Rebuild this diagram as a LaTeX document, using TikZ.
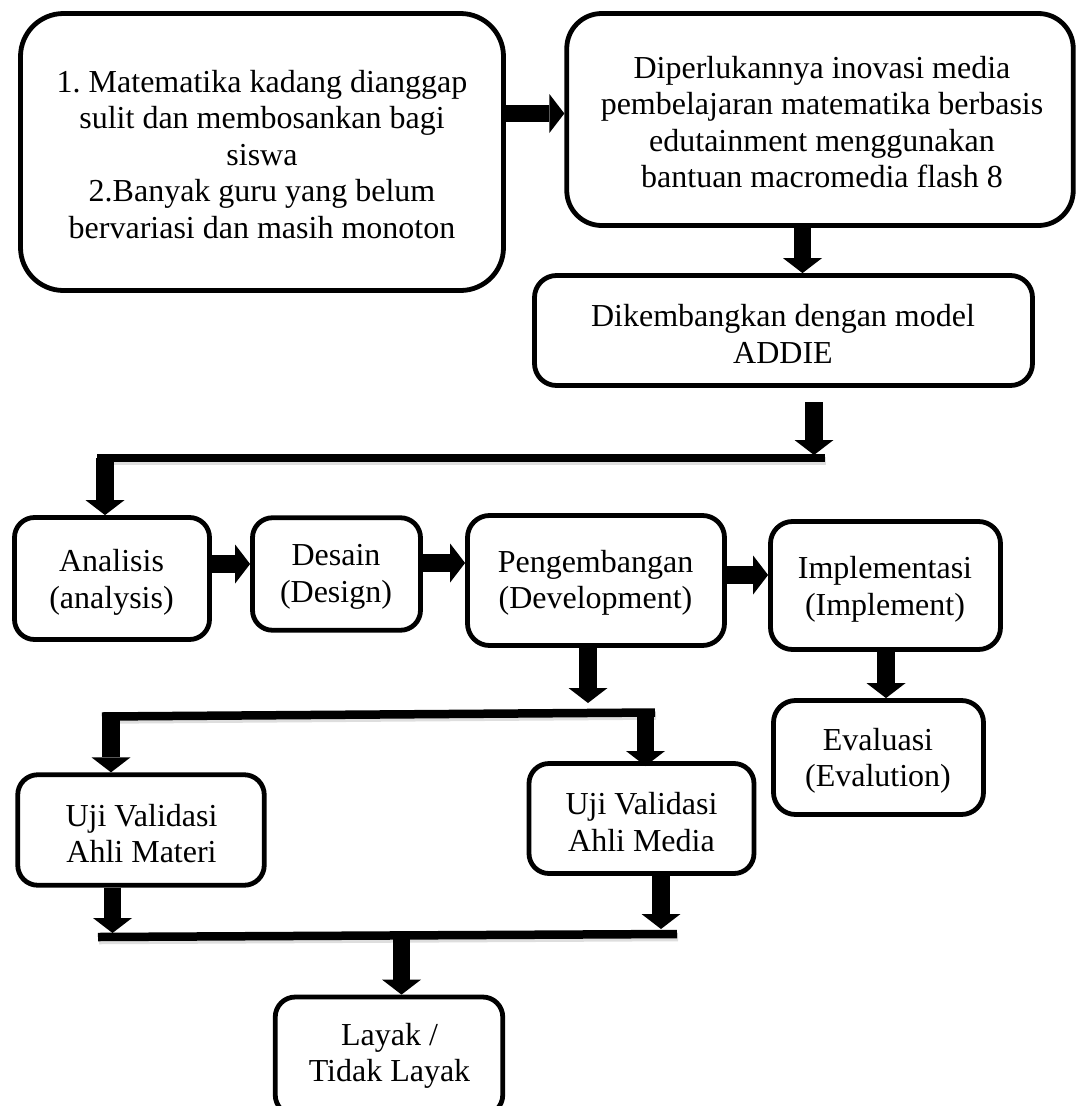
\documentclass[tikz,border=0pt]{standalone}
\usepackage{fontspec}
\setmainfont{Liberation Serif}
\usetikzlibrary{arrows.meta}
\frenchspacing
\begin{document}
\begin{tikzpicture}[x=1pt,y=-1pt,
  rbox/.style={draw, line width=4.8pt, rounded corners=#1, inner sep=0pt},
  rbox/.default=20pt,
  txt/.style={align=center, inner sep=0pt, font=\fontsize{32}{36.5}\selectfont\frenchspacing},
  barrow/.style={line width=17.5pt, -{Triangle[length=15pt,width=39pt,line width=0pt]}},
  linebar/.style={line width=8.5pt, preaction={draw=black!13, line width=8.5pt, transform canvas={xshift=1pt,yshift=-3pt}}}
]
\useasboundingbox (0,0) rectangle (1078,1106);

% boxes
\node[rbox=43pt, minimum width=483pt, minimum height=277pt] (b1) at (262,152) {};
\node[txt] (t1) at (262,154.5) {1. Matematika kadang dianggap\\ sulit dan membosankan bagi\\ siswa\\ 2.Banyak guru yang belum\\ bervariasi dan masih monoton};

\node[rbox=35pt, minimum width=506.5pt, minimum height=212pt] (b2) at (820,119.5) {};
\node[txt] (t2) at (822,122) {Diperlukannya inovasi media\\ pembelajaran matematika berbasis\\ edutainment menggunakan\\ bantuan macromedia flash 8};

\node[rbox=22pt, minimum width=498pt, minimum height=110pt] (b3) at (783.5,330.5) {};
\node[txt] (t3) at (783,334) {Dikembangkan dengan model\\ ADDIE};

\node[rbox, minimum width=195pt, minimum height=122pt] (an) at (112,578.5) {};
\node[txt] (tan) at (111.5,582.5) {Analisis\\ (analysis)};

\node[rbox, minimum width=168pt, minimum height=112.5pt] (de) at (336.5,574) {};
\node[txt] (tde) at (336,577) {Desain\\ (Design)};

\node[rbox=22pt, minimum width=257pt, minimum height=130pt] (pe) at (596,580.5) {};
\node[txt] (tpe) at (595.5,583) {Pengembangan\\ (Development)};

\node[rbox=22pt, minimum width=230pt, minimum height=128pt] (im) at (885.5,585.5) {};
\node[txt] (tim) at (885,589.5) {Implementasi\\ (Implement)};

\node[rbox=22pt, minimum width=210pt, minimum height=114pt] (ev) at (878.5,757.5) {};
\node[txt] (tev) at (878,761) {Evaluasi\\ (Evalution)};

\node[rbox, minimum width=246.5pt, minimum height=110.5pt] (um) at (141,830) {};
\node[txt] (tum) at (141.5,833.5) {Uji Validasi\\ Ahli Materi};

\node[rbox, minimum width=225pt, minimum height=110pt] (umd) at (641.5,818.5) {};
\node[txt] (tumd) at (641.5,822) {Uji Validasi\\ Ahli Media};

\node[rbox, minimum width=227.5pt, minimum height=118pt] (ly) at (389,1056) {};
\node[txt] (tly) at (389.5,1056) {Layak /\\ Tidak Layak};

% coordinates for bars and free ends
\coordinate (a3s) at (814,402);
\coordinate (a3e) at (814,455);
\coordinate (l1L) at (97,458);
\coordinate (l1R) at (825,458);
\coordinate (l1a) at (105,458);
\coordinate (a7e) at (588,703);
\coordinate (l2L) at (102,716.5);
\coordinate (l2R) at (655,712.5);
\coordinate (l2a) at (111,716);
\coordinate (l2b) at (645.5,713);
\coordinate (l2be) at (645.5,766);
\coordinate (a11e) at (112.5,933);
\coordinate (a12e) at (661,929);
\coordinate (l3L) at (98,937);
\coordinate (l3R) at (677,934);
\coordinate (l3a) at (401.5,935.5);

% bars
\draw[linebar] (l1L) -- (l1R);
\draw[linebar] (l2L) -- (l2R);
\draw[linebar] (l3L) -- (l3R);

% arrows
\draw[barrow] (b1.east |- 0,113.5) -- (b2.west |- 0,113.5);
\draw[barrow] (b2.south -| 802.5,0) -- (b3.north -| 802.5,0);
\draw[barrow] (a3s) -- (a3e);
\draw[barrow] (l1a) -- (an.north -| l1a);
\draw[barrow] (an.east |- 0,564) -- (de.west |- 0,564);
\draw[barrow] (de.east |- 0,563) -- (pe.west |- 0,563);
\draw[barrow] (pe.east |- 0,575) -- (im.west |- 0,575);
\draw[barrow] (im.south -| 886,0) -- (ev.north -| 886,0);
\draw[barrow] (pe.south -| a7e) -- (a7e);
\draw[barrow] (l2a) -- (um.north -| l2a);
\draw[barrow] (l2b) -- (l2be);
\draw[barrow] (um.south -| a11e) -- (a11e);
\draw[barrow] (umd.south -| a12e) -- (a12e);
\draw[barrow] (l3a) -- (ly.north -| l3a);
\end{tikzpicture}
\end{document}
